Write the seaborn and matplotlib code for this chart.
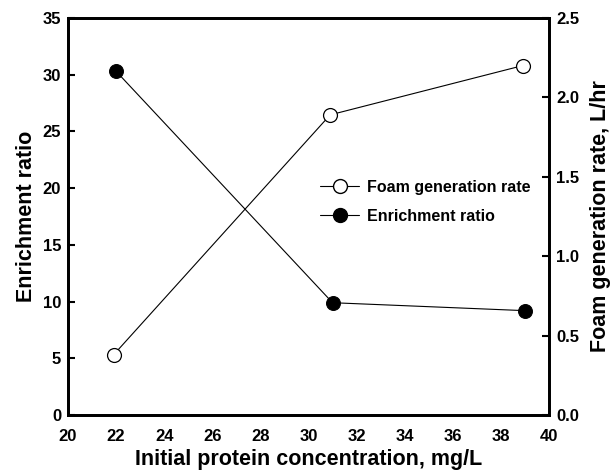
import matplotlib
matplotlib.use("Agg")
import matplotlib.pyplot as plt
import seaborn as sns
import pandas as pd
from matplotlib.lines import Line2D

sns.set_theme(style="white")
plt.rcParams['font.family'] = ['Liberation Sans', 'DejaVu Sans']
plt.rcParams['font.weight'] = 'bold'
plt.rcParams['text.color'] = 'black'
plt.rcParams['axes.labelcolor'] = 'black'
plt.rcParams['xtick.color'] = 'black'
plt.rcParams['ytick.color'] = 'black'

conc_enrich = [22.0, 31.0, 39.0]
enrichment_ratio = [30.3, 9.9, 9.2]
conc_foam = [21.9, 30.9, 38.9]
foam_rate = [0.38, 1.89, 2.20]

x_ticks = [20, 22, 24, 26, 28, 30, 32, 34, 36, 38, 40]
left_ticks = [0, 5, 10, 15, 20, 25, 30, 35]
right_ticks = [0.0, 0.5, 1.0, 1.5, 2.0, 2.5]

df_e = pd.DataFrame({"x": conc_enrich, "y": enrichment_ratio})
df_f = pd.DataFrame({"x": conc_foam, "y": foam_rate})

fig = plt.figure(figsize=(6.15, 4.7), dpi=100)
ax = fig.add_axes([0.1106, 0.117, 0.7821, 0.8447])
ax2 = ax.twinx()

sns.lineplot(data=df_e, x="x", y="y", ax=ax, color="black", lw=0.8,
             marker="o", markersize=10, markerfacecolor="black",
             markeredgecolor="black", legend=False)
sns.lineplot(data=df_f, x="x", y="y", ax=ax2, color="black", lw=0.8,
             marker="o", markersize=10, markerfacecolor="white",
             markeredgecolor="black", markeredgewidth=0.9, legend=False)

ax.set_xlim(20, 40)
ax.set_ylim(0, 35)
ax2.set_ylim(0, 2.5)
ax.set_xticks(x_ticks)
ax.set_yticks(left_ticks)
ax2.set_yticks(right_ticks)
tfont = {"fontweight": "bold", "fontsize": 12, "color": "black"}
ax.set_xticklabels([str(t) for t in x_ticks], **tfont)
ax.set_yticklabels([str(t) for t in left_ticks], **tfont)
ax2.set_yticklabels([f"{t:.1f}" for t in right_ticks], **tfont)

for a in (ax, ax2):
    for s in a.spines.values():
        s.set_linewidth(2.0)
        s.set_color("black")
    a.tick_params(direction="in", length=5, width=1.5, colors="black")
ax.tick_params(axis="x", pad=10)
ax.tick_params(axis="y", pad=5)
ax2.tick_params(axis="y", pad=5)

lfont = {"fontsize": 15.5, "fontweight": "bold", "color": "black"}
ax.set_xlabel("Initial protein concentration, mg/L", labelpad=4, **lfont)
ax.set_ylabel("Enrichment ratio", labelpad=4, **lfont)
ax2.set_ylabel("Foam generation rate, L/hr", labelpad=8, **lfont)

handles = [
    Line2D([], [], color="black", lw=0.8, marker="o", markersize=10,
           markerfacecolor="white", markeredgecolor="black"),
    Line2D([], [], color="black", lw=0.8, marker="o", markersize=10,
           markerfacecolor="black", markeredgecolor="black"),
]
leg = ax2.legend(handles, ["Foam generation rate", "Enrichment ratio"],
                 loc="center left", bbox_to_anchor=(0.495, 0.537), frameon=False,
                 prop={"weight": "bold", "size": 11.5}, handlelength=2.4,
                 handletextpad=0.5, labelspacing=0.9)
for t in leg.get_texts():
    t.set_color("black")

fig.savefig("out.png", dpi=100)
